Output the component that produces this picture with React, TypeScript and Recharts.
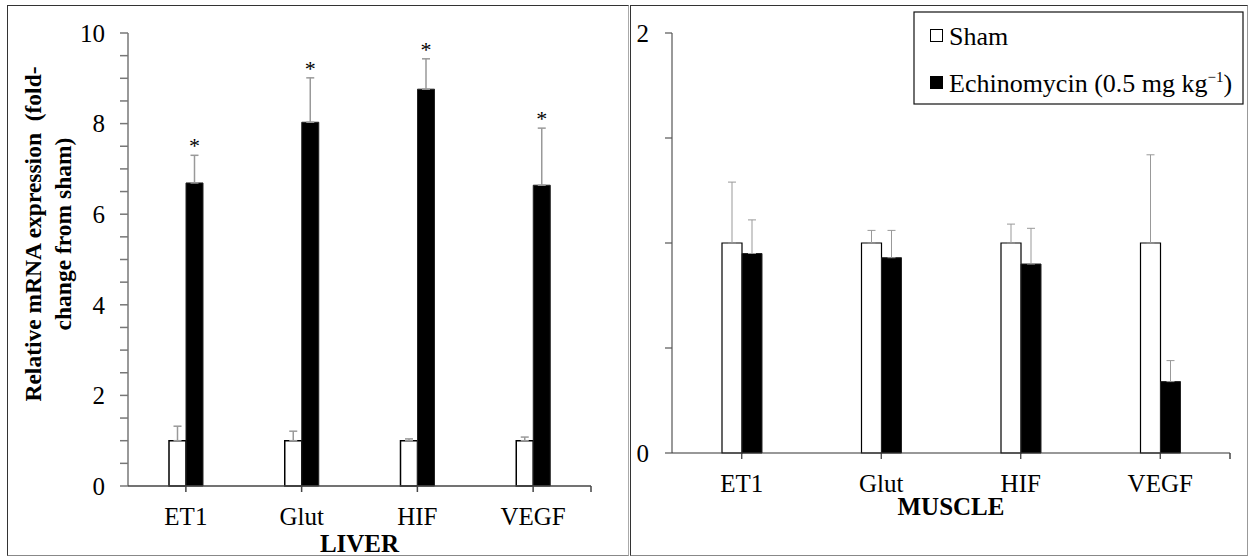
import React from 'react'
import { BarChart, Bar, XAxis, YAxis, ErrorBar, LabelList, Label } from 'recharts'

// Two-panel figure: liver vs muscle mRNA fold change, sham vs echinomycin

const CATEGORIES = ['ET1', 'Glut', 'HIF', 'VEGF']

const LIVER_SHAM = [1, 1, 1, 1]
const LIVER_SHAM_ERR = [0.32, 0.21, 0.04, 0.08]
const LIVER_ECHO = [6.69, 8.03, 8.76, 6.64]
const LIVER_ECHO_ERR = [0.61, 0.98, 0.67, 1.26]
const LIVER_SIG = ['*', '*', '*', '*']
const LIVER_Y_TICKS = [0, 0.5, 1, 1.5, 2, 2.5, 3, 3.5, 4, 4.5, 5, 5.5, 6, 6.5, 7, 7.5, 8, 8.5, 9, 9.5, 10]
const LIVER_Y_LABELS = [0, 2, 4, 6, 8, 10]

const MUSCLE_SHAM = [1, 1, 1, 1]
const MUSCLE_SHAM_ERR = [0.29, 0.06, 0.09, 0.42]
const MUSCLE_ECHO = [0.95, 0.93, 0.9, 0.34]
const MUSCLE_ECHO_ERR = [0.16, 0.13, 0.17, 0.1]
const MUSCLE_Y_TICKS = [0, 0.5, 1, 1.5, 2]
const MUSCLE_Y_LABELS = [0, 2]

const SERIES = [
  { key: 'sham', name: 'Sham', sup: '', tail: '', fill: '#ffffff' },
  { key: 'echo', name: 'Echinomycin (0.5 mg kg', sup: '\u22121', tail: ')', fill: '#000000' },
]

const Y_TITLE = ['Relative mRNA expression\u00a0 (fold-', 'change from sham)']

const FONT = '"Liberation Serif", "Times New Roman", Times, serif'

const build = (sham: number[], shamErr: number[], echo: number[], echoErr: number[]) =>
  CATEGORIES.map((name, i) => ({
    name,
    sham: sham[i],
    shamErr: [0, shamErr[i]],
    echo: echo[i],
    echoErr: [0, echoErr[i]],
  }))

const liverData = build(LIVER_SHAM, LIVER_SHAM_ERR, LIVER_ECHO, LIVER_ECHO_ERR)
const muscleData = build(MUSCLE_SHAM, MUSCLE_SHAM_ERR, MUSCLE_ECHO, MUSCLE_ECHO_ERR)

const labelOnly = (shown: number[]) => (v: number) => (shown.includes(v) ? String(v) : '')

// category tick + Excel-style closing tick at the right end of the axis
const categoryTick = (plotW: number) => (props: any) => {
  const { x, y, payload } = props
  const half = payload?.offset || plotW / CATEGORIES.length / 2
  const last = payload?.value === CATEGORIES[CATEGORIES.length - 1]
  return (
    <g>
      <text x={x} y={y} dy="0.71em" textAnchor="middle" fontSize={25} fill="#000">
        {payload.value}
      </text>
      {last && <line x1={x + half} x2={x + half} y1={y - 21} y2={y - 15} stroke="#444" strokeWidth={1.5} />}
    </g>
  )
}

// significance star over the echinomycin error bar
const sigLabel = (props: any) => {
  const vb = props.viewBox ?? props
  const { x, y, width, height } = vb
  const i = props.index
  const value = LIVER_ECHO[i]
  const top = y - (LIVER_ECHO_ERR[i] * height) / value
  return (
    <text x={x + width / 2} y={top - 2} textAnchor="middle" fontSize={22} fill="#000">
      {LIVER_SIG[i]}
    </text>
  )
}

const yTitle = (props: any) => {
  const { viewBox } = props
  const cx = viewBox.x + 41
  const cy = 234
  return (
    <text
      transform={`translate(${cx}, ${cy}) rotate(-90)`}
      textAnchor="middle"
      fontSize={23.5}
      fontWeight="bold"
      fill="#000"
    >
      <tspan x={0} y={0}>{Y_TITLE[0]}</tspan>
      <tspan x={0} y={30}>{Y_TITLE[1]}</tspan>
    </text>
  )
}

const tickStyle = { fontSize: 25, fill: '#000' }
const axisTitleStyle = { fontSize: 25, fontWeight: 'bold', fill: '#000' }

function Legend() {
  return (
    <svg width={331} height={94} style={{ position: 'absolute', left: 913, top: 11 }}>
      <rect x={1} y={1} width={329} height={92} fill="#fff" stroke="#111" strokeWidth={1.2} />
      {SERIES.map((s, i) => (
        <g key={s.key}>
          <rect x={17.5} y={18.5 + i * 47} width={12} height={12} fill={s.fill} stroke="#000" strokeWidth={1} />
          <text x={36} y={33.5 + i * 47} fontSize={26} fill="#000">
            {s.name}
            {s.sup && (
              <tspan fontSize={15} dy={-10}>
                {s.sup}
              </tspan>
            )}
            {s.tail && <tspan dy={s.sup ? 10 : 0}>{s.tail}</tspan>}
          </text>
        </g>
      ))}
    </svg>
  )
}

export default function App() {
  return (
    <div style={{ position: 'absolute', left: 0, top: 0, width: 1250, height: 557, background: '#fff', fontFamily: FONT }}>
      <div
        style={{
          position: 'absolute', left: 7, top: 5, width: 622, height: 551, boxSizing: 'border-box',
          borderTop: '1.5px solid #333', borderLeft: '1.5px solid #333',
          borderRight: '1.5px solid #aaa', borderBottom: '1.5px solid #888',
        }}
      />
      <div
        style={{
          position: 'absolute', left: 630, top: 5, width: 618, height: 551, boxSizing: 'border-box',
          borderTop: '1.5px solid #333', borderLeft: '1.5px solid #333',
          borderRight: '1.5px solid #999', borderBottom: '1.5px solid #888',
        }}
      />

      <div style={{ position: 'absolute', left: 0, top: 0 }}>
        <BarChart width={629} height={557} data={liverData} margin={{ top: 33, right: 38, bottom: 0, left: 0 }} barGap={0} barSize={17}>
          <YAxis
            width={128}
            domain={[0, 10]}
            ticks={LIVER_Y_TICKS}
            interval={0}
            tickFormatter={labelOnly(LIVER_Y_LABELS)}
            tick={tickStyle}
            tickSize={8}
            tickMargin={15}
            stroke="#777"
            strokeWidth={1.5}
          >
            <Label content={yTitle} />
          </YAxis>
          <XAxis
            dataKey="name"
            height={71}
            tick={categoryTick(463)}
            tickSize={6}
            tickMargin={15}
            stroke="#444"
            strokeWidth={1.5}
          >
            <Label value="LIVER" position="insideBottom" offset={5} style={axisTitleStyle} />
          </XAxis>
          <Bar dataKey="sham" name="Sham" fill="#fff" stroke="#000" strokeWidth={1.5} isAnimationActive={false}>
            <ErrorBar dataKey="shamErr" width={4} stroke="#999" strokeWidth={1.5} />
          </Bar>
          <Bar dataKey="echo" name="Echinomycin" fill="#000" stroke="#222" strokeWidth={1} isAnimationActive={false}>
            <ErrorBar dataKey="echoErr" width={4} stroke="#999" strokeWidth={1.5} />
            <LabelList dataKey="echo" content={sigLabel} />
          </Bar>
        </BarChart>
      </div>

      <div style={{ position: 'absolute', left: 629, top: 0 }}>
        <BarChart width={619} height={557} data={muscleData} margin={{ top: 33, right: 18, bottom: 0, left: 0 }} barGap={0} barSize={20}>
          <YAxis
            width={43}
            domain={[0, 2]}
            ticks={MUSCLE_Y_TICKS}
            interval={0}
            tickFormatter={labelOnly(MUSCLE_Y_LABELS)}
            tick={tickStyle}
            tickSize={7}
            tickMargin={16}
            stroke="#555"
            strokeWidth={1.2}
          />
          <XAxis
            dataKey="name"
            height={104}
            tick={categoryTick(558)}
            tickSize={6}
            tickMargin={15}
            stroke="#333"
            strokeWidth={1.2}
          >
            <Label value="MUSCLE" position="insideBottom" offset={42} style={axisTitleStyle} />
          </XAxis>
          <Bar dataKey="sham" name="Sham" fill="#fff" stroke="#000" strokeWidth={1.2} isAnimationActive={false}>
            <ErrorBar dataKey="shamErr" width={4} stroke="#999" strokeWidth={1} />
          </Bar>
          <Bar dataKey="echo" name="Echinomycin" fill="#000" stroke="#222" strokeWidth={1} isAnimationActive={false}>
            <ErrorBar dataKey="echoErr" width={4} stroke="#999" strokeWidth={1} />
          </Bar>
        </BarChart>
      </div>

      <Legend />
    </div>
  )
}
